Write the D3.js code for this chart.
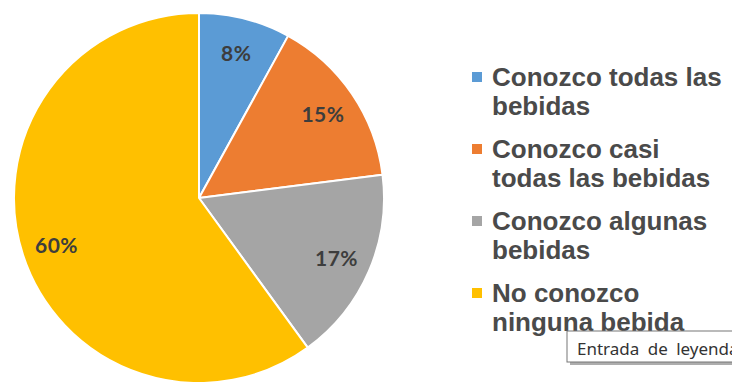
<!DOCTYPE html>
<html>
<head>
<meta charset="utf-8">
<script src="https://cdn.jsdelivr.net/npm/d3@7"></script>
<style>
  html, body { margin: 0; padding: 0; background: #fff; }
  svg { display: block; }
</style>
</head>
<body>
<svg id="chart" width="732" height="382"></svg>
<script>
// Survey answers: how many of the drinks are known
const categories = [
  ["Conozco todas las", "bebidas"],
  ["Conozco casi", "todas las bebidas"],
  ["Conozco algunas", "bebidas"],
  ["No conozco", "ninguna bebida"]
];
const values = [8, 15, 17, 60];
const colors = ["#5B9BD5", "#ED7D31", "#A5A5A5", "#FFC000"];
const tooltipText = "Entrada de leyenda";

const svg = d3.select("#chart");
const cx = 199, cy = 198, radius = 185;

const data = values.map((v, i) => ({ label: categories[i], value: v, color: colors[i] }));

const pie = d3.pie().value(d => d.value).sort(null);
const arc = d3.arc().innerRadius(0).outerRadius(radius);
const labelArc = d3.arc().innerRadius(radius * 0.81).outerRadius(radius * 0.81);

const g = svg.append("g").attr("transform", `translate(${cx},${cy})`);
const arcs = pie(data);

g.selectAll("path.slice")
  .data(arcs)
  .join("path")
  .attr("class", "slice")
  .attr("d", arc)
  .attr("fill", d => d.data.color)
  .attr("stroke", "#fff")
  .attr("stroke-width", 2)
  .attr("stroke-linejoin", "round");

g.selectAll("text.pct")
  .data(arcs)
  .join("text")
  .attr("class", "pct")
  .attr("transform", d => `translate(${labelArc.centroid(d)})`)
  .attr("text-anchor", "middle")
  .attr("dominant-baseline", "central")
  .attr("font-family", "Lato, 'Open Sans', sans-serif")
  .attr("font-weight", "bold")
  .attr("font-size", 21)
  .attr("letter-spacing", 0.5)
  .attr("fill", "#3d3d3d")
  .text(d => d.data.value + "%");

// Legend
const legend = svg.append("g").attr("transform", "translate(472,0)");
const entryTop = 86, entryStep = 72, lineGap = 29;

const items = legend.selectAll("g.item")
  .data(data)
  .join("g")
  .attr("class", "item")
  .attr("transform", (d, i) => `translate(0,${entryTop + i * entryStep})`);

items.append("rect")
  .attr("x", 0).attr("y", -14)
  .attr("width", 10).attr("height", 10)
  .attr("fill", d => d.color);

items.each(function(d) {
  const t = d3.select(this).append("text")
    .attr("font-family", "'Liberation Sans', Arial, sans-serif")
    .attr("font-weight", "bold")
    .attr("font-size", 26)
    .attr("fill", "#4a4a4a");
  d.label.forEach((line, j) => {
    t.append("tspan").attr("x", 20).attr("y", j * lineGap).text(line);
  });
});

// Hover tooltip over the legend
const tip = svg.append("g").attr("transform", "translate(567,331)");
tip.append("rect")
  .attr("x", 3).attr("y", 3)
  .attr("width", 200).attr("height", 31)
  .attr("fill", "#8a8a8a")
  .attr("opacity", 0.7);
tip.append("rect")
  .attr("x", 0).attr("y", 0)
  .attr("width", 200).attr("height", 31)
  .attr("fill", "#fff")
  .attr("stroke", "#767676")
  .attr("stroke-width", 1);
tip.append("text")
  .attr("x", 10).attr("y", 24)
  .attr("font-family", "'Noto Sans', 'Open Sans', sans-serif")
  .attr("font-size", 17)
  .attr("word-spacing", 4)
  .attr("fill", "#333")
  .text(tooltipText);
</script>
</body>
</html>
